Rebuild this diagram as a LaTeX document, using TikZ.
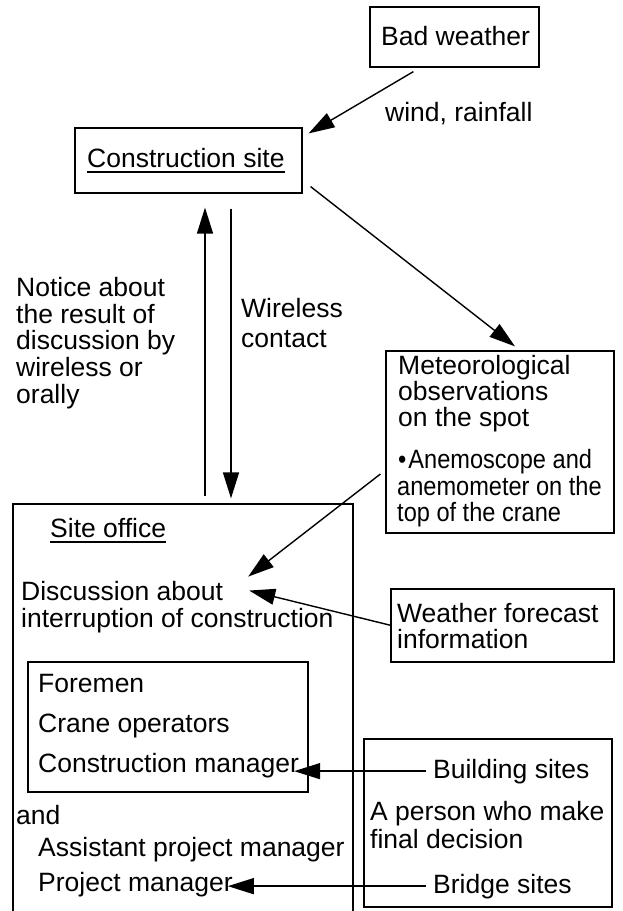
\documentclass[tikz,border=0pt]{standalone}
\usepackage{fontspec}
\setmainfont{Liberation Sans}
\newfontfamily\narrowfont[FakeStretch=0.89]{Liberation Sans}
\usetikzlibrary{arrows.meta}
\begin{document}
\begin{tikzpicture}[x=1pt,y=-1pt,
  box/.style={draw, line width=1.2pt, inner sep=0pt},
  txt/.style={inner sep=0pt, anchor=base west, font=\fontsize{26.5}{28}\selectfont},
  narrowtxt/.style={txt, font=\fontsize{26.5}{28}\narrowfont},
  arr/.style={line width=1.4pt, -{Triangle[length=26pt,width=16pt]}},
  uline/.style={append after command={([yshift=-5pt]\tikzlastnode.base west) edge[line width=1.3pt] ([yshift=-5pt]\tikzlastnode.base east)}}
]
\useasboundingbox (0,0) rectangle (623,911);

% boxes
\node[box, minimum width=169pt, minimum height=60pt] (bad) at (454.5,37) {};
\node[box, minimum width=227pt, minimum height=65pt] (cs) at (188.5,160.5) {};
\node[box, minimum width=228pt, minimum height=182pt] (met) at (500,442) {};
\node[box, minimum width=340pt, minimum height=436pt] (office) at (183,722) {};
\node[box, minimum width=223pt, minimum height=73pt] (weather) at (502.5,625.5) {};
\node[box, minimum width=280pt, minimum height=130pt] (foremen) at (168,727) {};
\node[box, minimum width=248pt, minimum height=168pt] (person) at (488,823) {};

% texts
\node[txt] (badtext) at (381,45) {Bad weather};
\node[txt] (wind) at (385,121) {wind, rainfall};
\node[txt, uline] (cstext) at (87,167) {Construction site};

\node[txt] (n1) at (16,296) {Notice about};
\node[txt] (n2) at (16,323) {the result of};
\node[txt] (n3) at (16,349) {discussion by};
\node[txt] (n4) at (16,376) {wireless or};
\node[txt] (n5) at (16,403) {orally};

\node[txt] (w1) at (241,317) {Wireless};
\node[txt] (w2) at (241,347) {contact};

\node[txt] (m1) at (398,374) {Meteorological};
\node[txt] (m2) at (398,400) {observations};
\node[txt] (m3) at (398,426) {on the spot};
\node[narrowtxt] (m4) at (398,468) {•\hspace{2pt}Anemoscope and};
\node[narrowtxt] (m5) at (397,495) {anemometer on the};
\node[narrowtxt] (m6) at (397,521) {top of the crane};

\node[txt, uline] (so) at (50,537) {Site office};
\node[txt] (disc1) at (21,600) {Discussion about};
\node[txt] (disc2) at (21,627) {interruption of construction};

\node[txt] (wf1) at (397,622) {Weather forecast};
\node[txt] (wf2) at (397,648) {information};

\node[txt] (fm) at (38,692) {Foremen};
\node[txt] (co) at (38,732) {Crane operators};
\node[txt] (cm) at (38,772) {Construction manager};

\node[txt] (and) at (16,824) {and};
\node[txt] (apm) at (38,856) {Assistant project manager};
\node[txt] (pm) at (38,891) {Project manager};

\node[txt] (bsites) at (433,778) {Building sites};
\node[txt] (p1) at (370,820) {A person who make};
\node[txt] (p2) at (370,848) {final decision};
\node[txt] (brsites) at (433,893) {Bridge sites};

% connectors
\draw[arr] ([xshift=44pt,yshift=-4pt]bad.south west) -- ([xshift=6pt,yshift=-6pt]cs.north east);
\draw[arr] ([xshift=8pt,yshift=7pt]cs.south east) -- ([xshift=15pt,yshift=4pt]met.north);
\draw[arr] ([xshift=22pt,yshift=7pt]office.north) -- ([xshift=16.5pt,yshift=-14pt]cs.south);
\draw[arr] ([xshift=42.5pt,yshift=-15pt]cs.south) -- ([xshift=48pt,yshift=5pt]office.north);
\draw[arr] ([xshift=-5pt,yshift=-32pt]met.west) -- ([xshift=25pt,yshift=4pt]disc1.north east);
\draw[arr] ([xshift=1pt]weather.west) -- ([xshift=26pt]disc1.east);
\draw[arr, shorten >=-5pt] ([xshift=-7pt]bsites.west) -- (cm.east |- bsites.west);
\draw[arr, shorten >=-5pt] ([xshift=-7pt]brsites.west) -- (pm.east |- brsites.west);
\end{tikzpicture}
\end{document}
